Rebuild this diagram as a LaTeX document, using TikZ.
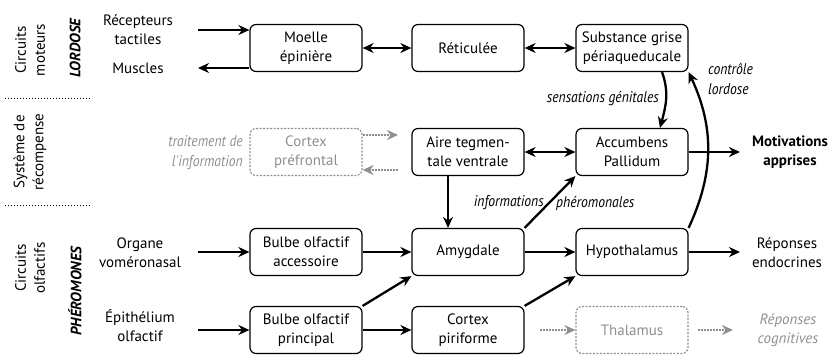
\documentclass[tikz,border=0pt]{standalone}
\usepackage{fontspec}
\setmainfont{PT Sans}
\newfontfamily\etroite[FakeStretch=0.88]{PT Sans}
\usetikzlibrary{arrows.meta}
\definecolor{grisclair}{HTML}{8F8F8F}

\tikzset{
  texte/.style={font=\fontsize{15}{19}\selectfont #1},
  boite/.style={draw, rounded corners=6pt, line width=1.2pt, minimum width=112pt,
    minimum height=47pt, align=center, inner sep=0pt},
  boitegrise/.style={boite, draw=grisclair, text=grisclair, dash pattern=on 2pt off 1.5pt},
  fleche/.style={line width=2.3pt, -{Stealth[length=11pt, width=10pt]}},
  dfleche/.style={line width=2.3pt, {Stealth[length=11pt, width=10pt]}-{Stealth[length=11pt, width=10pt]}},
  flechegrise/.style={draw=grisclair, line width=2.3pt, dash pattern=on 2pt off 1pt,
    -{Stealth[length=11pt, width=10pt]}},
  legende/.style={font=\etroite\itshape\fontsize{15.5}{20}\selectfont, inner sep=0pt},
  entree/.style={align=center, inner sep=0pt},
  circuit/.style={rotate=90, align=center, inner sep=0pt},
  pointilles/.style={line width=1pt, dash pattern=on 1pt off 2pt}
}

\begin{document}
\begin{tikzpicture}[x=1pt, y=-1pt, texte=]
  \useasboundingbox (0,0) rectangle (833,354);

  \node[circuit] (moteurs) at (30,50) {Circuits\\moteurs};
  \node[circuit, texte=\bfseries\itshape] (lordose) at (75,48) {LORDOSE};
  \node[circuit] (recompense) at (30,152) {Système de\\récompense};
  \node[circuit] (olfactifs) at (30,268) {Circuits\\olfactifs};
  \node[circuit, texte=\bfseries\itshape] (pheromones) at (75,291) {PHÉROMONES};
  \draw[pointilles] (5,98) -- (90,98);
  \draw[pointilles] (5,205) -- (90,205);

  \node[boite] (moelle) at (306,48) {Moelle\\épinière};
  \node[boite] (reticulee) at (468,48) {Réticulée};
  \node[boite] (sgpa) at (632,48) {Substance grise\\périaqueducale};
  \node[boitegrise] (prefrontal) at (306,152) {Cortex\\préfrontal};
  \node[boite] (atv) at (468,152) {Aire tegmen-\\tale ventrale};
  \node[boite] (accumbens) at (632,152) {Accumbens\\Pallidum};
  \node[boite] (bulbeacc) at (306,252) {Bulbe olfactif\\accessoire};
  \node[boite] (amygdale) at (468,252) {Amygdale};
  \node[boite] (hypothalamus) at (632,252) {Hypothalamus};
  \node[boite] (bulbepr) at (306,330) {Bulbe olfactif\\principal};
  \node[boite] (piriforme) at (468,330) {Cortex\\piriforme};
  \node[boitegrise] (thalamus) at (632,330) {Thalamus};

  \node[entree] (recepteurs) at (138,30) {Récepteurs\\tactiles};
  \node[entree] (muscles) at (138,68) {Muscles};
  \node[entree] (organe) at (140,253) {Organe\\voméronasal};
  \node[entree] (epithelium) at (140,326) {Épithélium\\olfactif};
  \node[entree] (endocrines) at (787,253) {Réponses\\endocrines};
  \node[entree, texte=\bfseries] (motivations) at (790,152) {Motivations\\apprises};
  \node[entree, text=grisclair, texte=\itshape] (cognitives) at (788,330) {Réponses\\cognitives};
  \node[legende, text=grisclair, align=right, anchor=east] (traitement) at (243,153)
    {traitement de\\l'information};

  \coordinate (gauche) at (198,0);
  \coordinate (droite) at (740,0);
  \coordinate (sortiepf) at (398,135);
  \coordinate (entreepf) at (398,170);
  \coordinate (avantth) at (540,0);
  \coordinate (apresth) at (698,0);
  \coordinate (finth) at (733,0);

  \draw[fleche] (gauche |- recepteurs) -- (moelle.west |- recepteurs);
  \draw[fleche] (moelle.west |- muscles) -- (gauche |- muscles);
  \draw[dfleche] (moelle) -- (reticulee);
  \draw[dfleche] (reticulee) -- (sgpa);
  \draw[dfleche] (atv) -- (accumbens);
  \draw[flechegrise] (prefrontal.east |- sortiepf) -- (sortiepf);
  \draw[flechegrise] (entreepf) -- (prefrontal.east |- entreepf);
  \draw[fleche] ([xshift=-20pt]atv.south) -- ([xshift=-20pt]amygdale.north);
  \draw[fleche] (accumbens) -- (droite |- accumbens);
  \draw[fleche] (amygdale.north east) -- (accumbens.south west);
  \node[legende, anchor=east] (informations) at (544,203) {informations};
  \node[legende, anchor=west] (pheromonales) at (556,203) {phéromonales};
  \draw[fleche] ([xshift=30pt]sgpa.south) to[out=-70, in=75] ([xshift=28pt]accumbens.north);
  \node[legende, anchor=east] (sensations) at (659,99) {sensations génitales};
  \draw[fleche] (hypothalamus.north east) to[out=65, in=-65] (sgpa.south east);
  \node[legende, align=left, anchor=west] (controle) at (708,79) {contrôle\\lordose};

  \draw[fleche] (gauche |- bulbeacc) -- (bulbeacc);
  \draw[fleche] (bulbeacc) -- (amygdale);
  \draw[fleche] (amygdale) -- (hypothalamus);
  \draw[fleche] (hypothalamus) -- (droite |- hypothalamus);
  \draw[fleche] (gauche |- bulbepr) -- (bulbepr);
  \draw[fleche] (bulbepr) -- (piriforme);
  \draw[fleche] (bulbepr.north east) -- (amygdale.south west);
  \draw[fleche] (piriforme.north east) -- (hypothalamus.south west);
  \draw[flechegrise] (avantth |- piriforme) -- (thalamus);
  \draw[flechegrise] (apresth |- thalamus) -- (finth |- thalamus);
\end{tikzpicture}
\end{document}
